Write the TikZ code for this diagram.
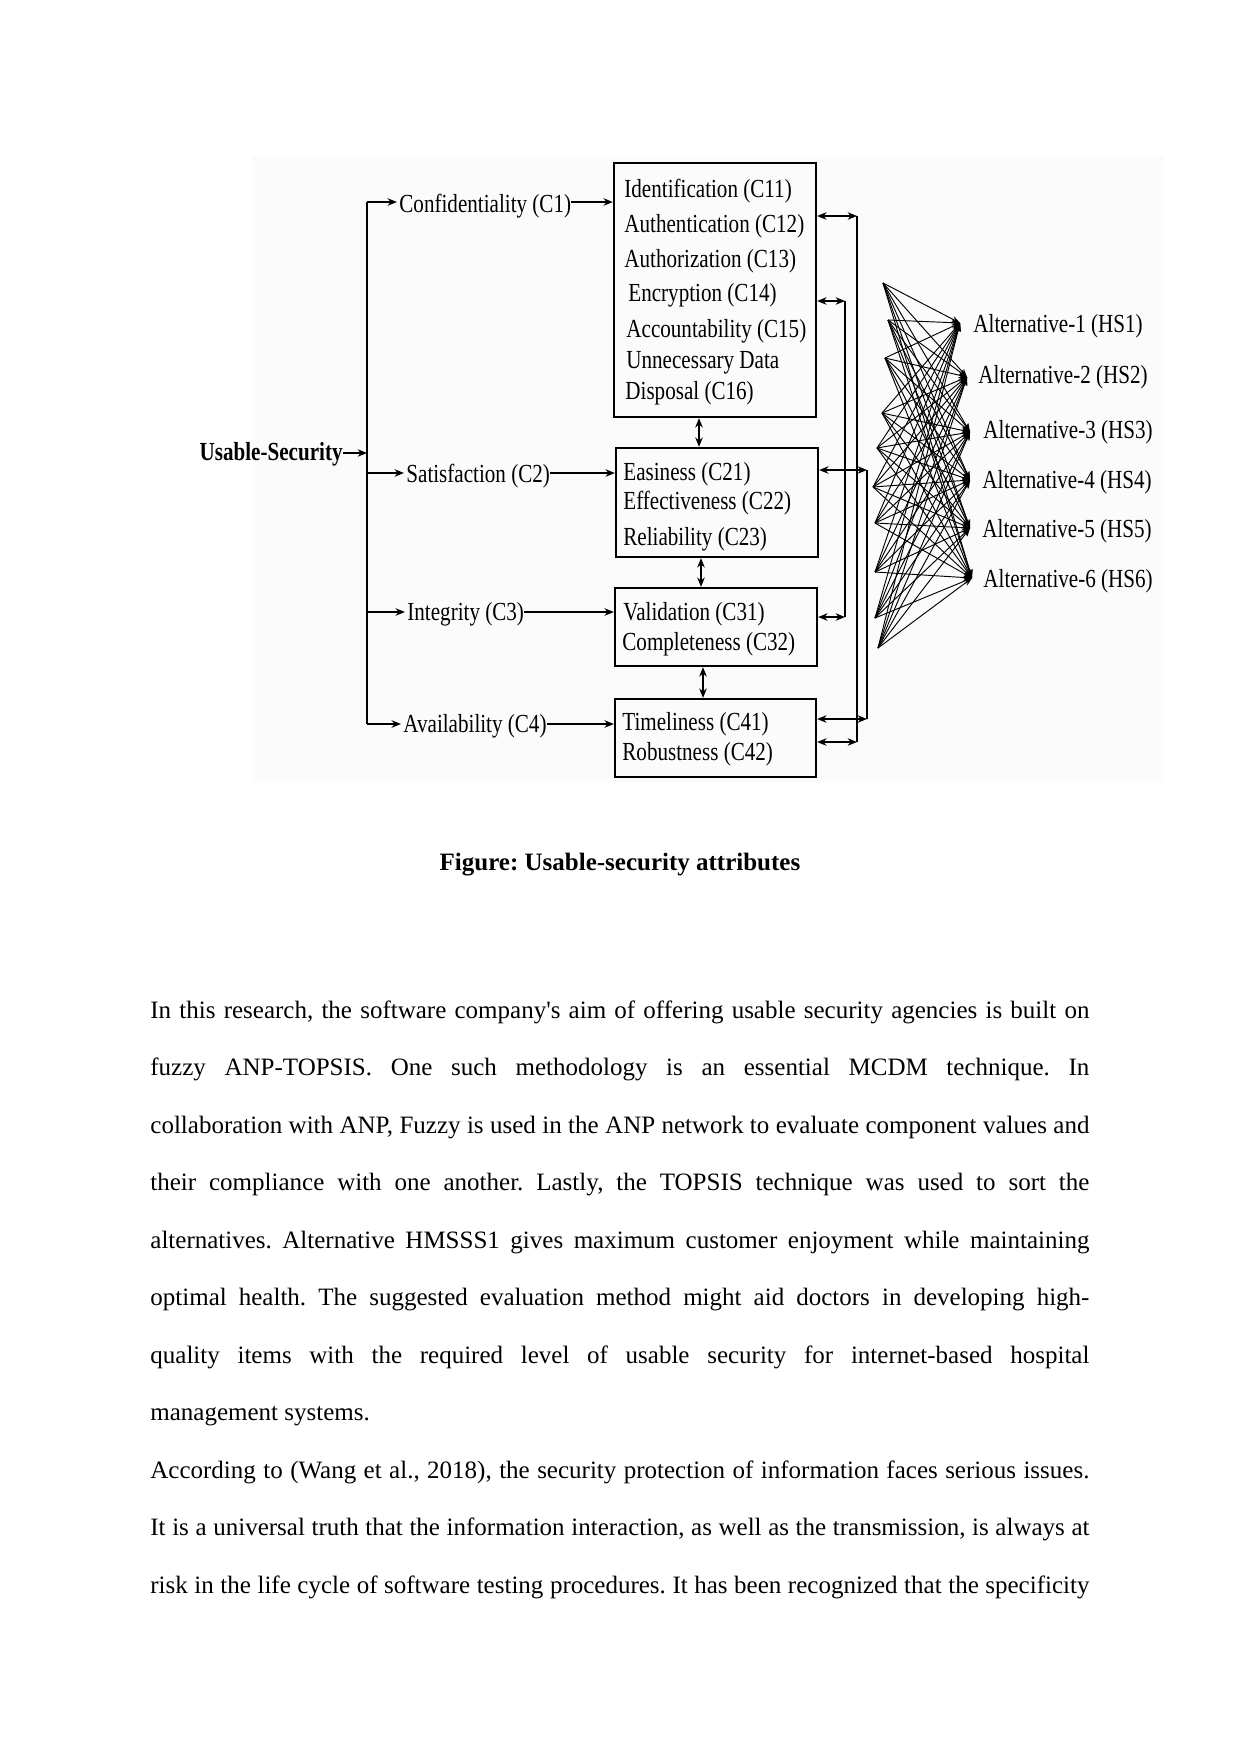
\documentclass[tikz,border=0pt]{standalone}
\usepackage{fontspec}
\setmainfont{Liberation Serif}
\newfontfamily\dfont[FakeStretch=0.81]{Liberation Serif}
\usetikzlibrary{arrows.meta}
\frenchspacing
\tikzset{
  lbl/.style={font=\dfont\fontsize{12.5}{15}\selectfont, inner sep=0pt, anchor=base west},
  boxx/.style={draw, line width=1.1pt, inner sep=0pt},
  arr/.style={line width=0.6pt, -{Stealth[length=4.5pt,width=3.6pt]}},
  darr/.style={line width=0.6pt, {Stealth[length=4.5pt,width=3.6pt]}-{Stealth[length=4.5pt,width=3.6pt]}},
  conn/.style={line width=0.6pt},
  narr/.style={line width=0.45pt, -{Stealth[length=4pt,width=3pt]}},
}
\begin{document}
\begin{tikzpicture}[x=0.48pt,y=-0.48pt]
\frenchspacing
\useasboundingbox (0,0) rectangle (1241,1754);
\fill[black!1.5] (252,157) rectangle (1164,783);

% root and criteria
\node[lbl, anchor=base east, font=\dfont\bfseries\fontsize{12.5}{15}\selectfont] (us) at (343,460) {Usable-Security};
\node[lbl] (c1) at (399,212) {Confidentiality (C1)};
\node[lbl] (c2) at (406,482) {Satisfaction (C2)};
\node[lbl] (c3) at (407,620) {Integrity (C3)};
\node[lbl] (c4) at (403,732) {Availability (C4)};

\coordinate (rU) at (367,453);
\coordinate (r1) at (367,202);
\coordinate (r2) at (367,473);
\coordinate (r3) at (367,612);
\coordinate (r4) at (367,724);

% boxes
\node[boxx, minimum width=96.96pt, minimum height=121.92pt] (b1) at (715,290) {};
\node[boxx, minimum width=96.96pt, minimum height=52.32pt] (b2) at (717,502.5) {};
\node[boxx, minimum width=96.96pt, minimum height=37.44pt] (b3) at (716,627) {};
\node[boxx, minimum width=96.48pt, minimum height=37.44pt] (b4) at (715.5,738) {};

\node[lbl] (t11) at (624,197) {Identification (C11)};
\node[lbl] (t12) at (624,232) {Authentication (C12)};
\node[lbl] (t13) at (624,267) {Authorization (C13)};
\node[lbl] (t14) at (628,301) {Encryption (C14)};
\node[lbl] (t15) at (626,337) {Accountability (C15)};
\node[lbl] (t16a) at (626,368) {Unnecessary Data};
\node[lbl] (t16b) at (625,399) {Disposal (C16)};
\node[lbl] (t21) at (623,480) {Easiness (C21)};
\node[lbl] (t22) at (623,509) {Effectiveness (C22)};
\node[lbl] (t23) at (623,545) {Reliability (C23)};
\node[lbl] (t31) at (623,620) {Validation (C31)};
\node[lbl] (t32) at (622,650) {Completeness (C32)};
\node[lbl] (t41) at (622,730) {Timeliness (C41)};
\node[lbl] (t42) at (622,760) {Robustness (C42)};

% trunk and branches
\draw[conn] (r1) -- (r4);
\draw[arr] (us.east |- rU) -- (rU);
\draw[arr, shorten >=1pt] (r1) -- (r1 -| c1.west);
\draw[arr, shorten >=1pt] (r2) -- (r2 -| c2.west);
\draw[arr, shorten >=1pt] (r3) -- (r3 -| c3.west);
\draw[arr, shorten >=1pt] (r4) -- (r4 -| c4.west);
\draw[arr] (c1.east |- r1) -- (r1 -| b1.west);
\draw[arr] (c2.east |- r2) -- (r2 -| b2.west);
\draw[arr] (c3.east |- r3) -- (r3 -| b3.west);
\draw[arr] (c4.east |- r4) -- (r4 -| b4.west);

% links between boxes
\coordinate (x12) at (699,0);
\coordinate (x23) at (701,0);
\coordinate (x34) at (703,0);
\draw[darr] (b1.south -| x12) -- (b2.north -| x12);
\draw[darr] (b2.south -| x23) -- (b3.north -| x23);
\draw[darr] (b3.south -| x34) -- (b4.north -| x34);

% feedback lines
\coordinate (v1a) at (857,216);
\coordinate (v1b) at (857,742);
\coordinate (v2a) at (845,301);
\coordinate (v2b) at (845,617);
\coordinate (v3a) at (867,470);
\coordinate (v3b) at (867,719);
\draw[darr] (v1a -| b1.east) -- (v1a);
\draw[conn] (v1a) -- (v1b);
\draw[darr] (v1b) -- (v1b -| b4.east);
\draw[darr] (v2a -| b1.east) -- (v2a);
\draw[conn] (v2a) -- (v2b);
\draw[darr] (v2b) -- (v2b -| b3.east);
\draw[darr] (v3a -| b2.east) -- (v3a);
\draw[conn] (v3a) -- (v3b);
\draw[darr] (v3b) -- (v3b -| b4.east);

% network
\coordinate (n1) at (883,283);
\coordinate (n2) at (888,320);
\coordinate (n3) at (885,358);
\coordinate (n4) at (882,413);
\coordinate (n5) at (877,448);
\coordinate (n6) at (873,487);
\coordinate (n7) at (875,523);
\coordinate (n8) at (875,572);
\coordinate (n9) at (875,618);
\coordinate (n10) at (878,648);
\coordinate (p1) at (960,323);
\coordinate (p2) at (967,377);
\coordinate (p3) at (970,432);
\coordinate (p4) at (970,480);
\coordinate (p5) at (970,528);
\coordinate (p6) at (972,578);
\foreach \i in {1,...,10} {
  \foreach \j in {1,...,6} {
    \draw[narr] (n\i) -- (p\j);
  }
}
\node[lbl] (a1) at (973,332) {Alternative-1 (HS1)};
\node[lbl] (a2) at (978,383) {Alternative-2 (HS2)};
\node[lbl] (a3) at (983,438) {Alternative-3 (HS3)};
\node[lbl] (a4) at (982,488) {Alternative-4 (HS4)};
\node[lbl] (a5) at (982,537) {Alternative-5 (HS5)};
\node[lbl] (a6) at (983,587) {Alternative-6 (HS6)};

% caption
\node[anchor=base, inner sep=0pt, font=\bfseries\fontsize{12}{14}\selectfont] (cap) at (620,870) {Figure: Usable-security attributes};

% body text
\node[anchor=base west, inner sep=0pt, text width=450.72pt, align=justify,
      font=\fontsize{12}{27.6}\selectfont] (body) at (150,1018) {%
\frenchspacing\tolerance=10000\hyphenpenalty=10000
In this research, the software company\textquotesingle s aim of offering usable security agencies is built on\linebreak
fuzzy ANP-TOPSIS. One such methodology is an essential MCDM technique. In\linebreak
collaboration with ANP, Fuzzy is used in the ANP network to evaluate component values and\linebreak
their compliance with one another. Lastly, the TOPSIS technique was used to sort the\linebreak
alternatives. Alternative HMSSS1 gives maximum customer enjoyment while maintaining\linebreak
optimal health. The suggested evaluation method might aid doctors in developing high-\linebreak
quality items with the required level of usable security for internet-based hospital\linebreak
management systems.\par
{\parfillskip=0pt
According to (Wang et al., 2018), the security protection of information faces serious issues.\linebreak
It is a universal truth that the information interaction, as well as the transmission, is always at\linebreak
risk in the life cycle of software testing procedures. It has been recognized that the specificity\par}};
\end{tikzpicture}
\end{document}
